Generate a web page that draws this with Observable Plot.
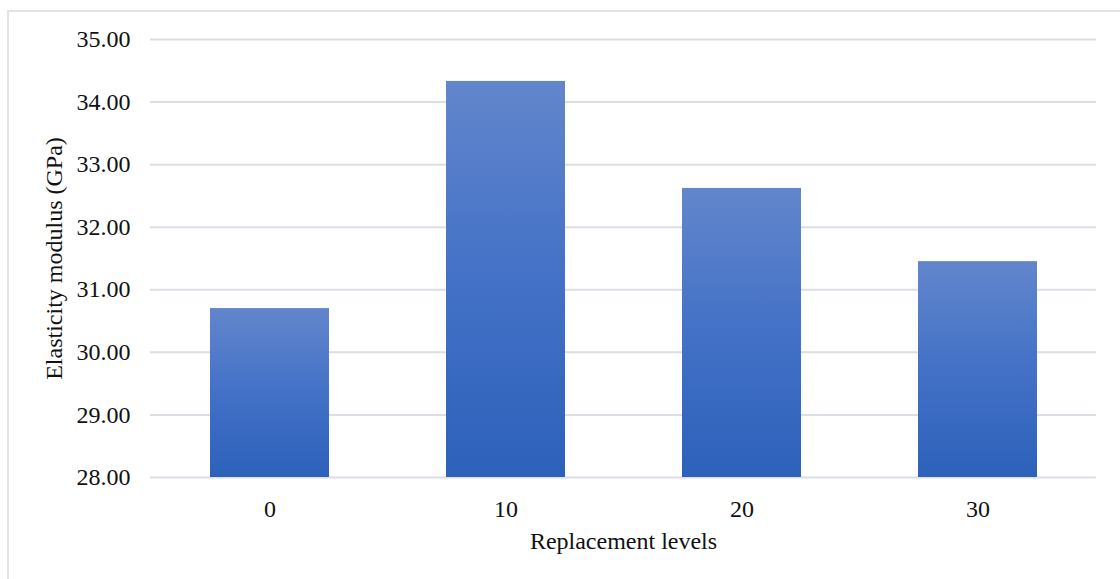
<!DOCTYPE html>
<html>
<head>
<meta charset="utf-8">
<script src="https://cdn.jsdelivr.net/npm/d3@7"></script>
<script src="https://cdn.jsdelivr.net/npm/@observablehq/plot@0.6"></script>
<style>
  html, body { margin: 0; padding: 0; background: #fff; }
  #chart { position: relative; width: 1120px; height: 579px; overflow: hidden; }
  #chart svg { position: absolute; left: 0; top: 0; }
  #frame { position: absolute; left: 7px; top: 10px; width: 1200px; height: 700px;
           border: 2px solid #e1e4ea; box-sizing: border-box; }
</style>
</head>
<body>
<div id="chart"><div id="frame"></div></div>
<script>
// Elasticity modulus (GPa) at each replacement level
const levels = ["0", "10", "20", "30"];
const modulus = [30.70, 34.33, 32.62, 31.45];
const yTicks = [28, 29, 30, 31, 32, 33, 34, 35];
const yLabel = "Elasticity modulus (GPa)";
const xLabel = "Replacement levels";

const data = levels.map((level, i) => ({level, value: modulus[i]}));

const plot = Plot.plot({
  width: 1120,
  height: 579,
  marginLeft: 150,
  marginRight: 24,
  marginTop: 39,
  marginBottom: 102,
  style: {fontFamily: "'Liberation Serif', 'Times New Roman', serif", fontSize: "24px", color: "#111", background: "transparent"},
  x: {type: "band", domain: levels, paddingInner: 0.497, paddingOuter: 0.25, label: null},
  y: {domain: [28, 35], label: null},
  marks: [
    Plot.ruleY(yTicks, {stroke: "#dadee5", strokeWidth: 2}),
    Plot.barY(data, {x: "level", y1: 28, y2: "value", fill: "url(#barGrad)"}),
    Plot.axisY(yTicks, {tickSize: 0, tickPadding: 20, tickFormat: d3.format(".2f"), label: null}),
    Plot.axisX({tickSize: 0, tickPadding: 22, label: null}),
    Plot.text([yLabel], {frameAnchor: "left", dx: -96, rotate: -90, textAnchor: "middle", lineAnchor: "middle", fill: "#111"}),
    Plot.text([xLabel], {frameAnchor: "bottom", dy: 64, textAnchor: "middle", lineAnchor: "middle", fill: "#111"})
  ]
});

// vertical blue gradient applied to each bar
d3.select(plot).insert("defs", ":first-child").html(`
  <linearGradient id="barGrad" x1="0" y1="0" x2="0" y2="1">
    <stop offset="0" stop-color="#6286cc"/>
    <stop offset="0.5" stop-color="#4371c7"/>
    <stop offset="1" stop-color="#2d61ba"/>
  </linearGradient>`);

document.getElementById("chart").appendChild(plot);
</script>
</body>
</html>
